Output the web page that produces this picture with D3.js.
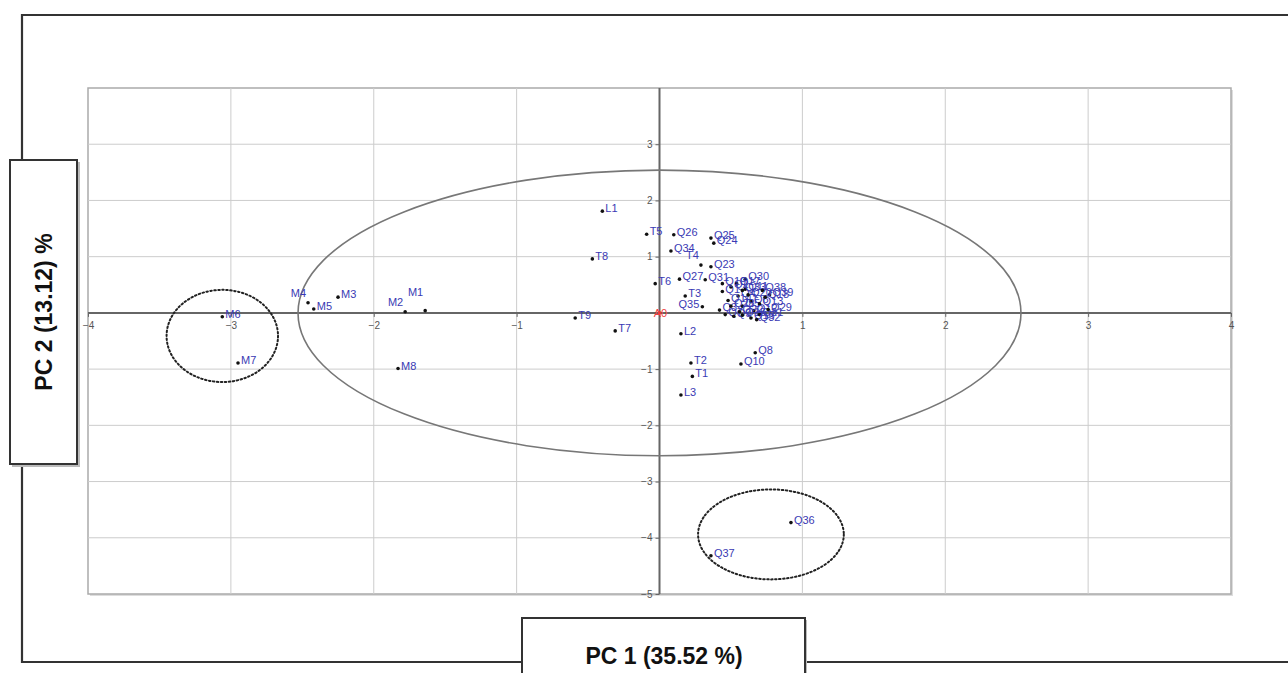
<!DOCTYPE html>
<html>
<head>
<meta charset="utf-8">
<script src="https://cdn.jsdelivr.net/npm/d3@7"></script>
<style>
  body { margin: 0; background: #fff; }
  svg { display: block; font-family: "Liberation Sans", Arial, sans-serif; }
</style>
</head>
<body>
<svg id="chart" width="1288" height="673"></svg>
<script>
// PCA scores (PC1, PC2)
const pointNames = ["M1","M2","M3","M4","M5","M6","M7","M8",
  "L1","L2","L3","T1","T2","T3","T4","T5","T6","T7","T8","T9","A0",
  "Q23","Q24","Q25","Q26","Q27","Q30","Q31","Q34","Q35","Q39",
  "Q1","Q2","Q3","Q4","Q5","Q6","Q7","Q9","Q11","Q12","Q13","Q14","Q15","Q16",
  "Q17","Q18","Q19","Q20","Q21","Q22","Q28","Q29","Q32","Q33","Q38",
  "Q8","Q10","Q36","Q37"];
const pc1Scores = [-1.64,-1.78,-2.25,-2.46,-2.42,-3.06,-2.95,-1.83,
  -0.40,0.15,0.15,0.23,0.22,0.18,0.29,-0.09,-0.03,-0.31,-0.47,-0.59,0,
  0.36,0.38,0.36,0.10,0.14,0.60,0.32,0.08,0.30,0.77,
  0.44,0.50,0.42,0.55,0.58,0.64,0.46,0.52,0.60,0.66,0.70,0.48,0.58,0.64,
  0.54,0.74,0.44,0.62,0.70,0.56,0.50,0.76,0.68,0.58,0.72,
  0.67,0.57,0.92,0.36];
const pc2Scores = [0.04,0.02,0.28,0.18,0.07,-0.07,-0.89,-0.99,
  1.81,-0.37,-1.46,-1.13,-0.89,0.30,0.85,1.40,0.52,-0.32,0.96,-0.09,0,
  0.82,1.24,1.33,1.39,0.60,0.60,0.59,1.10,0.11,0.32,
  0.38,0.46,0.05,0.30,0.12,0.20,-0.03,-0.06,0.42,0.04,0.16,0.22,-0.04,-0.09,
  0.52,0.28,0.52,0.32,-0.03,0.02,0.12,0.06,-0.12,0.40,0.40,
  -0.71,-0.91,-3.73,-4.32];

const xTicks = [-4,-3,-2,-1,1,2,3,4];
const yTicks = [3,2,1,-1,-2,-3,-4,-5];

// Hotelling T2 ellipse radius and the two outlier groups (data units)
const confidenceRadius = [2.53, 2.54];
const groupCenters = [[-3.06,-0.41],[0.78,-3.94]];
const groupRadii = [[0.39,0.82],[0.51,0.80]];

const xTitle = "PC 1 (35.52 %)";
const yTitle = "PC 2 (13.12) %";

const svg = d3.select("#chart");
const x = d3.scaleLinear().domain([-4, 4]).range([88, 1231]);
const y = d3.scaleLinear().domain([-5, 4]).range([594, 88]);

// outer frame, broken where the axis title boxes sit
const frame = svg.append("g").attr("stroke", "#333").attr("stroke-width", 2.2).attr("fill", "none");
frame.append("path").attr("d", "M22,160 V15 H1290");
frame.append("path").attr("d", "M22,465 V662 H522");
frame.append("path").attr("d", "M805,662 H1290");

// plot area
svg.append("rect").attr("x", 90).attr("y", 90).attr("width", 1143).attr("height", 506)
  .attr("fill", "#ddd");
svg.append("rect").attr("x", x(-4)).attr("y", y(4)).attr("width", x(4) - x(-4)).attr("height", y(-5) - y(4))
  .attr("fill", "#fff").attr("stroke", "#aaa").attr("stroke-width", 1.5);

const grid = svg.append("g").attr("stroke", "#ccc").attr("stroke-width", 1);
grid.selectAll(".vx").data(d3.range(-3, 4)).enter().append("line")
  .attr("x1", d => x(d)).attr("x2", d => x(d)).attr("y1", y(4)).attr("y2", y(-5));
grid.selectAll(".hy").data(d3.range(-4, 4)).enter().append("line")
  .attr("y1", d => y(d)).attr("y2", d => y(d)).attr("x1", x(-4)).attr("x2", x(4));

// zero axes through the origin
const xAxis = d3.axisBottom(x).tickValues(xTicks).tickSize(4).tickFormat(d3.format("d"));
const yAxis = d3.axisLeft(y).tickValues(yTicks).tickSize(4).tickFormat(d3.format("d"));
const gx = svg.append("g").attr("transform", "translate(0," + y(0) + ")").call(xAxis);
const gy = svg.append("g").attr("transform", "translate(" + x(0) + ",0)").call(yAxis);
[gx, gy].forEach(function(g) {
  g.select(".domain").attr("stroke", "#666").attr("stroke-width", 2);
  g.selectAll(".tick line").attr("stroke", "#666");
  g.selectAll(".tick text").attr("fill", "#555").attr("font-size", 10)
    .attr("font-family", "Liberation Sans, Arial, sans-serif");
});
gx.select(".domain").attr("d", "M" + x(-4) + ",0H" + x(4));
gy.select(".domain").attr("d", "M0," + y(4) + "V" + y(-5));
gx.selectAll(".tick text").attr("dy", "0.9em");

// confidence ellipse
svg.append("ellipse")
  .attr("cx", x(0)).attr("cy", y(0))
  .attr("rx", x(confidenceRadius[0]) - x(0)).attr("ry", y(0) - y(confidenceRadius[1]))
  .attr("fill", "none").attr("stroke", "#777").attr("stroke-width", 1.6);

// dotted ellipses around outlier groups
svg.selectAll(".grp").data(groupCenters).enter().append("ellipse")
  .attr("cx", d => x(d[0])).attr("cy", d => y(d[1]))
  .attr("rx", (d, i) => x(groupRadii[i][0]) - x(0))
  .attr("ry", (d, i) => y(0) - y(groupRadii[i][1]))
  .attr("fill", "none").attr("stroke", "#222").attr("stroke-width", 2)
  .attr("stroke-dasharray", "1.5,2.5").attr("stroke-linecap", "round");

// points
const points = pointNames.map(function(n, i) { return { name: n, pc1: pc1Scores[i], pc2: pc2Scores[i] }; });
const upLeft = new Set(["M1","M2","M4","T4"]);
const leftSide = new Set(["Q35"]);

const node = svg.selectAll(".pt").data(points).enter().append("g")
  .attr("class", "pt")
  .attr("transform", d => "translate(" + x(d.pc1) + "," + y(d.pc2) + ")");

node.append("circle").attr("r", 1.8)
  .attr("fill", d => d.name === "A0" ? "#e33" : "#111");

node.append("text")
  .text(d => d.name)
  .attr("font-size", 11)
  .attr("fill", d => d.name === "A0" ? "#f04040" : "#3a3ab4")
  .attr("text-anchor", d => (upLeft.has(d.name) || leftSide.has(d.name)) ? "end" : (d.name === "A0" ? "middle" : "start"))
  .attr("x", d => upLeft.has(d.name) ? -2 : leftSide.has(d.name) ? -3 : d.name === "A0" ? 1 : 3)
  .attr("y", d => d.name === "M1" ? -15 : upLeft.has(d.name) ? -6 : d.name === "A0" ? 4 : 1);

// axis title boxes
const yBox = svg.append("g");
yBox.append("rect").attr("x", 12).attr("y", 162).attr("width", 68).attr("height", 305).attr("fill", "#bbb");
yBox.append("rect").attr("x", 10).attr("y", 160).attr("width", 67).attr("height", 304)
  .attr("fill", "#fff").attr("stroke", "#333").attr("stroke-width", 2);
yBox.append("text").text(yTitle)
  .attr("transform", "translate(52,312) rotate(-90)")
  .attr("text-anchor", "middle").attr("font-size", 23).attr("font-weight", "bold").attr("fill", "#111");

const xBox = svg.append("g");
xBox.append("rect").attr("x", 524).attr("y", 620).attr("width", 283).attr("height", 60).attr("fill", "#bbb");
xBox.append("rect").attr("x", 522).attr("y", 618).attr("width", 283).attr("height", 60)
  .attr("fill", "#fff").attr("stroke", "#333").attr("stroke-width", 2);
xBox.append("text").text(xTitle)
  .attr("x", 664).attr("y", 664)
  .attr("text-anchor", "middle").attr("font-size", 23).attr("font-weight", "bold").attr("fill", "#111");
</script>
</body>
</html>
